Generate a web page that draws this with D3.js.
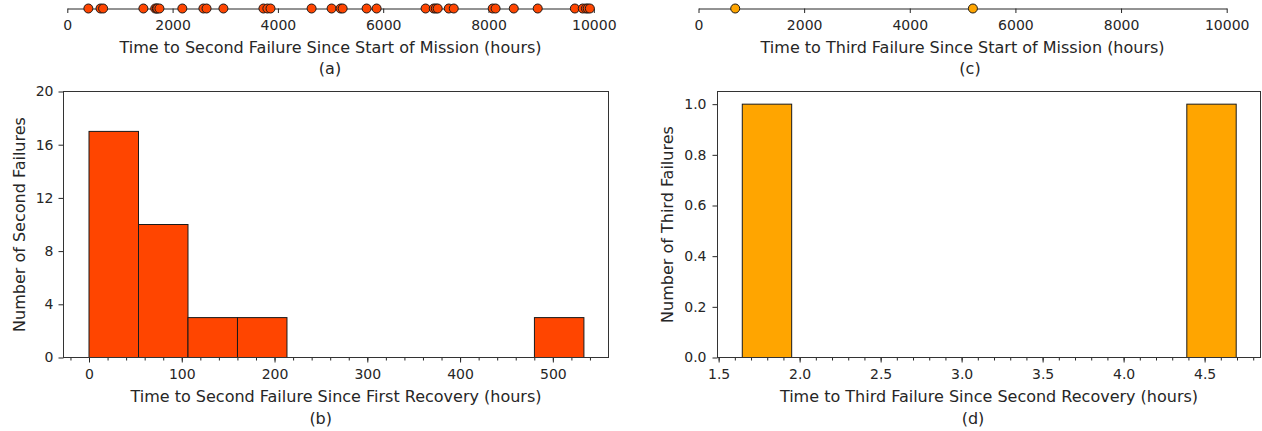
<!DOCTYPE html>
<html lang="en">
<head>
    <meta charset="UTF-8">
    <title>Failure Times</title>
    <script src="https://d3js.org/d3.v7.min.js"></script>
    <style>
        body {
            margin: 0;
            background-color: white;
        }
        svg text {
            font-family: 'DejaVu Sans', sans-serif;
            font-size: 16px;
            fill: #262626;
        }
        .axis path, .axis line {
            stroke: #262626;
        }
    </style>
</head>
<body>
    <div id="chart"></div>

    <script>
        // Failure times since start of mission (hours)
        const secondFailTimes = [400, 630, 680, 1445, 1670, 1700, 1710, 1750, 2185, 2585, 2645, 2965,
            3725, 3800, 3860, 4640, 5020, 5190, 5230, 5685, 5875, 6805, 6960, 7000, 7035, 7245,
            7340, 8080, 8135, 8480, 8935, 9640, 9790, 9850, 9885, 9925];
        const thirdFailTimes = [695, 5195];
        const missionTicks = [0, 2000, 4000, 6000, 8000, 10000];

        // Histogram (b): time to second failure since first recovery
        const secondGapCounts = [17, 10, 3, 3, 0, 0, 0, 0, 0, 3];
        const secondGapRange = [0, 533.5];
        const secondGapTicks = [0, 100, 200, 300, 400, 500];
        const secondCountTicks = [0, 4, 8, 12, 16, 20];

        // Histogram (d): time to third failure since second recovery
        const thirdGapCounts = [1, 0, 0, 0, 0, 0, 0, 0, 0, 1];
        const thirdGapRange = [1.646, 4.695];
        const thirdGapTicks = [1.5, 2.0, 2.5, 3.0, 3.5, 4.0, 4.5];
        const thirdCountTicks = [0, 0.2, 0.4, 0.6, 0.8, 1.0];

        const COLORS = {
            second: "#ff4500",
            third: "#ffa500",
            edge: "#1a1a1a"
        };

        const svg = d3.select("#chart")
            .append("svg")
            .attr("width", 1262)
            .attr("height", 431);

        // strip plot of failure times along the mission
        function stripPlot(x0, x1, values, color, label, caption, captionX) {
            const x = d3.scaleLinear().domain([0, 10000]).range([x0, x1]);
            const axisY = 8.5;

            svg.append("g")
                .attr("class", "axis")
                .attr("transform", `translate(0,${axisY})`)
                .call(d3.axisBottom(x).tickValues(missionTicks).tickSize(4.5).tickSizeOuter(0).tickPadding(7).tickFormat(d3.format("d")))
                .call(g => g.selectAll("text").style("font-size", "14px").attr("font-family", null));

            svg.append("g")
                .selectAll("circle")
                .data(values)
                .enter()
                .append("circle")
                .attr("cx", d => x(d))
                .attr("cy", axisY)
                .attr("r", 4.5)
                .attr("fill", color)
                .attr("stroke", COLORS.edge)
                .attr("stroke-width", 1);

            svg.append("text")
                .attr("x", (x0 + x1) / 2)
                .attr("y", 53)
                .attr("text-anchor", "middle")
                .text(label);

            svg.append("text")
                .attr("x", captionX)
                .attr("y", 73.5)
                .attr("text-anchor", "middle")
                .text(caption);
        }

        // histogram panel with frame, major and minor ticks
        function histPanel(opts) {
            const { left, right, top, bottom } = opts;
            const x = d3.scaleLinear().domain(opts.xDomain).range([left, right]);
            const y = d3.scaleLinear().domain(opts.yDomain).range([bottom, top]);

            const nBins = opts.counts.length;
            const binW = (opts.range[1] - opts.range[0]) / nBins;
            const bins = opts.counts.map((c, i) => ({
                x0: opts.range[0] + i * binW,
                x1: opts.range[0] + (i + 1) * binW,
                count: c
            }));

            svg.append("g")
                .selectAll("rect")
                .data(bins.filter(b => b.count > 0))
                .enter()
                .append("rect")
                .attr("x", d => x(d.x0))
                .attr("y", d => y(d.count))
                .attr("width", d => x(d.x1) - x(d.x0))
                .attr("height", d => y(0) - y(d.count))
                .attr("fill", opts.color)
                .attr("stroke", COLORS.edge)
                .attr("stroke-width", 1);

            // minor ticks
            svg.append("g")
                .attr("class", "axis")
                .attr("transform", `translate(0,${bottom})`)
                .call(d3.axisBottom(x).tickValues(opts.minorTicks).tickSize(3).tickSizeOuter(0).tickFormat(""))
                .call(g => g.select(".domain").remove());

            svg.append("g")
                .attr("class", "axis")
                .attr("transform", `translate(0,${bottom})`)
                .call(d3.axisBottom(x).tickValues(opts.xTicks).tickSize(5).tickSizeOuter(0).tickPadding(7).tickFormat(d3.format(opts.xFormat)))
                .call(g => g.select(".domain").remove())
                .call(g => g.selectAll("text").style("font-size", "14px").attr("font-family", null));

            svg.append("g")
                .attr("class", "axis")
                .attr("transform", `translate(${left},0)`)
                .call(d3.axisLeft(y).tickValues(opts.yTicks).tickSize(5).tickSizeOuter(0).tickPadding(opts.yPad).tickFormat(d3.format(opts.yFormat)))
                .call(g => g.select(".domain").remove())
                .call(g => g.selectAll("text").style("font-size", "14px").attr("font-family", null));

            // frame
            svg.append("rect")
                .attr("x", left)
                .attr("y", top)
                .attr("width", right - left)
                .attr("height", bottom - top)
                .attr("fill", "none")
                .attr("stroke", "#333")
                .attr("stroke-width", 1);

            svg.append("text")
                .attr("x", (left + right) / 2)
                .attr("y", 402)
                .attr("text-anchor", "middle")
                .text(opts.xLabel);

            svg.append("text")
                .attr("transform", `translate(${opts.yLabelX},${(top + bottom) / 2}) rotate(-90)`)
                .attr("text-anchor", "middle")
                .text(opts.yLabel);

            svg.append("text")
                .attr("x", opts.captionX)
                .attr("y", 423.5)
                .attr("text-anchor", "middle")
                .text(opts.caption);
        }

        stripPlot(67.3, 593.8, secondFailTimes, COLORS.second,
            "Time to Second Failure Since Start of Mission (hours)", "(a)", 330);
        stripPlot(698.5, 1226.7, thirdFailTimes, COLORS.third,
            "Time to Third Failure Since Start of Mission (hours)", "(c)", 970);

        histPanel({
            left: 63.5, right: 608.5, top: 91.5, bottom: 357.5,
            xDomain: [-27.5, 560], yDomain: [0, 20],
            counts: secondGapCounts, range: secondGapRange, color: COLORS.second,
            xTicks: secondGapTicks, minorTicks: d3.range(-20, 560, 20),
            yTicks: secondCountTicks, xFormat: "d", yFormat: "d", yPad: 5,
            xLabel: "Time to Second Failure Since First Recovery (hours)",
            yLabel: "Number of Second Failures", yLabelX: 24.5,
            caption: "(b)", captionX: 320.7
        });

        histPanel({
            left: 717.5, right: 1260.5, top: 91.5, bottom: 357.5,
            xDomain: [1.493, 4.845], yDomain: [0, 1.05],
            counts: thirdGapCounts, range: thirdGapRange, color: COLORS.third,
            xTicks: thirdGapTicks, minorTicks: d3.range(1.5, 4.85, 0.1),
            yTicks: thirdCountTicks, xFormat: ".1f", yFormat: ".1f", yPad: 6,
            xLabel: "Time to Third Failure Since Second Recovery (hours)",
            yLabel: "Number of Third Failures", yLabelX: 673,
            caption: "(d)", captionX: 973
        });
    </script>
</body>
</html>
